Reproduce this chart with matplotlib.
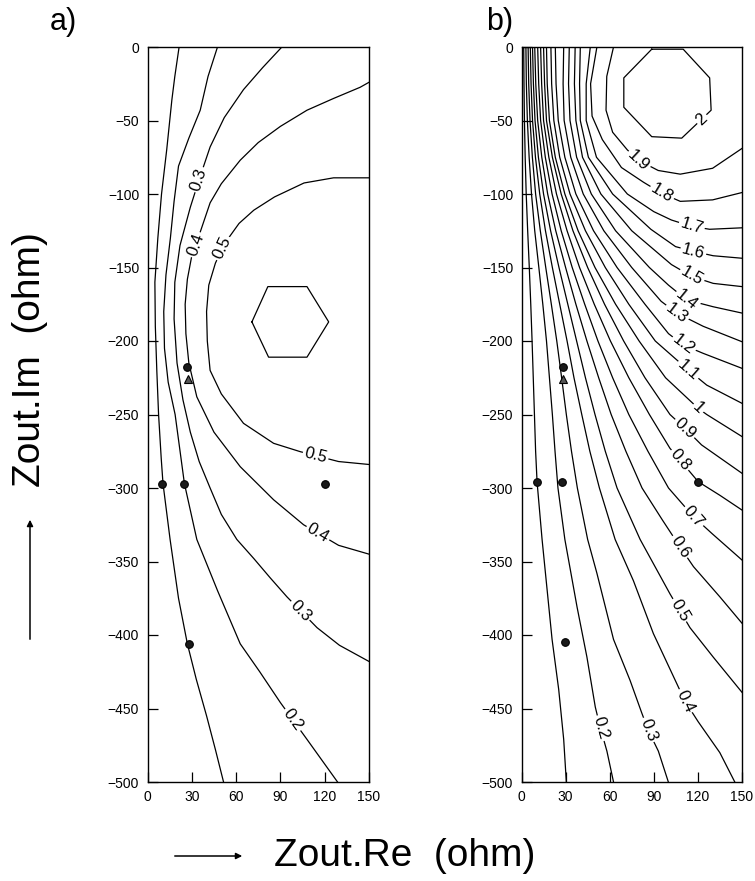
import numpy as np
import matplotlib
matplotlib.use("Agg")
import matplotlib.pyplot as plt
from matplotlib.patches import FancyArrowPatch

plt.rcParams['font.family'] = ['Liberation Sans', 'DejaVu Sans']

# ---------------- data: contour lines ----------------
# Panel a) levels 0.1 .. 0.6
a_levels = [0.1, 0.2, 0.3, 0.4, 0.5, 0.6]
a_c01 = [(21.4, 0), (18.5, -20), (16.5, -36), (13, -70), (9.5, -100), (7, -130), (5, -160), (5.3, -190),
         (6.3, -220), (7.5, -250), (9.3, -280), (10.5, -297), (15.3, -335), (21, -375), (27, -406),
         (33, -430), (40, -455), (46, -478), (51.5, -500)]
a_c02 = [(47.4, 0), (41, -20), (35.7, -43), (28, -62), (21, -81), (18, -105), (15.5, -130), (12.5, -155),
         (11, -180), (11.5, -205), (14, -228), (18.7, -250), (25, -297), (33.4, -335), (47.5, -370),
         (62.8, -406), (76, -425), (90, -446), (108, -471), (128.7, -500)]
a_c03 = [(91, 0), (78, -14), (65, -29), (52, -48), (42.4, -68), (35, -90), (29, -109), (22, -135),
         (18.5, -160), (18, -185), (20, -215), (24, -240), (29, -262), (35, -282), (42.4, -300),
         (50, -318), (60.5, -335), (72, -348), (83, -361), (94.4, -374), (114.8, -395), (130, -407),
         (150, -418)]
a_c04 = [(150, -24), (144, -27.4), (126, -35), (108, -43), (90, -54), (75, -65), (62.8, -77), (50, -93),
         (42.4, -106), (36, -125), (30, -142), (27, -158), (25.5, -175), (26, -195), (28, -215),
         (33.4, -238), (45, -262), (62.8, -285.5), (85.4, -308), (105.7, -325), (129.4, -339), (150, -345)]
a_c05 = [(150, -89), (126, -89), (106, -92.5), (86, -102), (72, -111), (62, -120), (52, -134), (46, -147),
         (41.5, -162), (40, -180), (40.5, -200), (42.4, -220), (50, -236), (65, -256), (85.4, -269.6),
         (103.5, -275.3), (129.4, -282), (150, -284)]
a_c06 = [(70.7, -187), (81.5, -163), (108, -163), (122.7, -187), (108, -211), (82, -211), (70.7, -187)]

# Panel b) levels 0.1 .. 2.0
b_levels = [0.1, 0.2, 0.3, 0.4, 0.5, 0.6, 0.7, 0.8, 0.9, 1.0, 1.1, 1.2, 1.3, 1.4, 1.5, 1.6, 1.7, 1.8, 1.9, 2.0]
b_c01 = [(1.5, 0), (1.7, -25), (2, -50), (2.5, -75), (3.2, -100), (4.2, -125), (5.3, -150), (6.3, -175),
         (7.2, -200), (8, -225), (8.8, -250), (9.6, -275), (10.6, -296), (14, -335), (17.4, -369),
         (20.8, -403), (25.3, -437), (28.7, -471), (30.5, -500)]
b_c02 = [(3, 0), (3.3, -25), (4, -50), (5.2, -75), (6.8, -100), (9, -125), (11.8, -150), (14.5, -175),
         (17, -200), (19, -225), (21, -250), (22.8, -275), (24.8, -300), (29.5, -335), (37.8, -381),
         (44.5, -415), (50.2, -449), (53.6, -463), (58.1, -479), (62.6, -500)]
b_c03 = [(4.5, 0), (4.9, -25), (5.8, -50), (7.4, -75), (9.6, -100), (12.8, -125), (16.5, -150),
         (20.3, -175), (24, -200), (27.3, -225), (30.5, -250), (34, -275), (38, -300), (45, -335),
         (51.3, -358), (62.6, -403), (73.9, -431), (81.8, -453), (86.3, -465), (93.1, -479), (99.9, -500)]
b_c04 = [(6, 0), (6.5, -25), (7.5, -50), (9.5, -75), (12.4, -100), (16.3, -125), (21, -150), (26, -175),
         (31, -200), (35.7, -225), (41, -250), (46.5, -275), (53, -300), (63.7, -335), (76.1, -363),
         (89.7, -399), (105.6, -433), (111.2, -445), (120.2, -459), (134.9, -480), (145.1, -500)]
b_c05 = [(7.5, 0), (8.1, -25), (9.2, -50), (11.5, -75), (15, -100), (19.8, -125), (25.5, -150),
         (31.5, -175), (37.5, -200), (43.5, -225), (50, -250), (57, -275), (65, -300), (80.7, -335),
         (101, -372), (114.6, -395), (130.4, -415), (150, -439)]
b_c06 = [(9, 0), (9.7, -25), (11, -50), (13.8, -75), (17.8, -100), (23.3, -125), (30, -150), (37, -175),
         (44.5, -200), (52.5, -225), (61, -250), (71, -275), (82, -300), (96, -322), (107.8, -340),
         (117, -353.5), (134.9, -374), (150, -392)]
b_c07 = [(11, 0), (11.7, -25), (13, -50), (16.2, -75), (20.8, -100), (27, -125), (34.5, -150), (43, -175),
         (52, -200), (62, -225), (73, -250), (86, -275), (100, -300), (117, -319.5), (129.6, -331),
         (150, -349)]
b_c08 = [(13, 0), (13.7, -25), (15, -50), (18.6, -75), (23.8, -100), (31, -125), (39.5, -150),
         (49.5, -175), (60.5, -200), (73, -225), (87, -250), (101, -273), (107.8, -281), (120.2, -295.7),
         (135, -305), (150, -315)]
b_c09 = [(15, 0), (15.7, -25), (17, -50), (21, -75), (27, -100), (35, -125), (45, -150), (56.5, -175),
         (69.5, -200), (84, -225), (101, -250), (111.2, -259.4), (122.5, -270.7), (150, -290)]
b_c10 = [(17, 0), (17.5, -25), (19, -50), (23, -75), (29.5, -100), (38.5, -125), (50, -150), (64, -175),
         (80, -200), (98, -225), (120.2, -245.8), (126, -250), (150, -265)]
b_c11 = [(20, 0), (20.5, -25), (22, -50), (26, -75), (33, -100), (43.5, -125), (57, -150), (73, -175),
         (91, -200), (113.4, -219.7), (126, -230), (150, -242.4)]
b_c12 = [(23, 0), (23.5, -25), (25, -50), (29.5, -75), (37, -100), (49, -125), (65, -150), (84, -175),
         (100, -195), (110, -202.7), (123.6, -208.4), (150, -218.6)]
b_c13 = [(28.7, 0), (28.3, -25), (29, -50), (33.5, -75), (42, -100), (56, -125), (75, -150), (95, -173),
         (105.6, -181), (123.6, -190), (150, -200.5)]
b_c14 = [(32.5, 0), (32, -25), (33, -50), (37.5, -75), (47.5, -100), (64, -125), (87, -150), (100, -162),
         (112.3, -172), (130.4, -176.7), (150, -181)]
b_c15 = [(36.5, 0), (36, -25), (37, -50), (41.5, -75), (54, -100), (75, -125), (102, -148),
         (115.7, -156), (130.4, -160.8), (150, -163)]
b_c16 = [(40, 0), (39.5, -25), (40, -50), (45.5, -75), (62, -100), (88, -124), (104.8, -135.8),
         (116.9, -139), (130.4, -142), (150, -143.7)]
b_c17 = [(46.8, 0), (44, -25), (44, -50), (51, -75), (72, -100), (90, -112), (102, -117.7),
         (115.7, -122), (128, -124), (150, -123)]
b_c18 = [(51.3, 0), (47, -25), (48, -47), (55, -63), (68, -82), (83, -92), (95.4, -99.5), (108, -105),
         (130, -104), (150, -99)]
b_c19 = [(62.6, 0), (58, -20), (57.5, -43), (62, -58), (72, -70), (79.5, -77), (93, -84), (108, -86.5),
         (130, -82.5), (150, -69)]
b_c20 = [(88.6, -1.5), (110, -1.5), (128, -21), (129, -43), (109, -62), (88.6, -61), (69.6, -41),
         (69.6, -21), (88.6, -1.5)]

# measurement points (filled dots) and triangle marker
pts_a_x = [10, 25, 120, 27, 28]
pts_a_y = [-297, -297, -297, -218, -406]
tri_a_x = [27.5]
tri_a_y = [-226]
pts_b_x = [10.6, 27.6, 120.2, 28, 29.8]
pts_b_y = [-296, -296, -296, -218, -405]
tri_b_x = [28]
tri_b_y = [-226]

x_ticks = [0, 30, 60, 90, 120, 150]
y_ticks = [0, -50, -100, -150, -200, -250, -300, -350, -400, -450, -500]

# ---------------- figure ----------------
W, H = 755, 881
fig = plt.figure(figsize=(W / 100, H / 100), dpi=100)


def px_axes(l, r, t, b):
    return [l / W, 1 - b / H, (r - l) / W, (b - t) / H]


ax_a = fig.add_axes(px_axes(147.5, 369, 47, 782))
ax_b = fig.add_axes(px_axes(521.5, 742, 47, 782))


def style_axes(ax):
    ax.set_xlim(0, 150)
    ax.set_ylim(-500, 0)
    ax.set_xticks(x_ticks)
    ax.set_yticks(y_ticks)
    ax.set_xticklabels([str(v) for v in x_ticks])
    ax.set_yticklabels([("\u2212" + str(-v)) if v < 0 else str(v) for v in y_ticks])
    ax.tick_params(direction='in', length=7, width=0.9, labelsize=10, top=False, right=False)
    ax.tick_params(axis='y', pad=6)
    ax.tick_params(axis='x', pad=6)
    for s in ax.spines.values():
        s.set_linewidth(1.0)


def draw_lines(ax, lines):
    for ln in lines:
        arr = np.asarray(ln, float)
        ax.plot(arr[:, 0], arr[:, 1], color='black', lw=0.9, solid_joinstyle='round', zorder=2,
                clip_on=True)


def place_label(ax, line, anchor, text, size=12):
    pts = np.asarray(line, float)
    disp = ax.transData.transform(pts)
    a = ax.transData.transform(anchor)
    best = None
    for i in range(len(disp) - 1):
        p, q = disp[i], disp[i + 1]
        d = q - p
        t = np.clip(np.dot(a - p, d) / np.dot(d, d), 0, 1)
        proj = p + t * d
        dist = np.hypot(*(a - proj))
        if best is None or dist < best[0]:
            best = (dist, proj, d)
    _, proj, d = best
    ang = np.degrees(np.arctan2(d[1], d[0]))
    if ang > 90:
        ang -= 180
    if ang < -90:
        ang += 180
    xy = ax.transData.inverted().transform(proj)
    ax.text(xy[0], xy[1], text, rotation=ang, rotation_mode='anchor', ha='center', va='center',
            fontsize=size, zorder=5,
            bbox=dict(boxstyle='square,pad=0.1', fc='white', ec='none'))


style_axes(ax_a)
style_axes(ax_b)

a_lines = [a_c01, a_c02, a_c03, a_c04, a_c05, a_c06]
b_lines = [b_c01, b_c02, b_c03, b_c04, b_c05, b_c06, b_c07, b_c08, b_c09, b_c10,
           b_c11, b_c12, b_c13, b_c14, b_c15, b_c16, b_c17, b_c18, b_c19, b_c20]
draw_lines(ax_a, a_lines)
draw_lines(ax_b, b_lines)


def fmt(v):
    return "%g" % v


# labels for panel a (index into a_levels, anchor)
a_lab = [(2, (34, -90)), (3, (34, -135)), (4, (51, -137)), (4, (113.6, -279)), (3, (114.7, -332)),
         (2, (103, -384)), (1, (98, -458))]
for i, anc in a_lab:
    place_label(ax_a, a_lines[i], anc, fmt(a_levels[i]))

b_lab = [(19, (123.6, -50)), (18, (79.5, -77)), (17, (95.4, -99.5)), (16, (115.7, -122)),
         (15, (116.9, -139)), (14, (115.7, -156)), (13, (112.3, -172)), (12, (105.6, -181)),
         (11, (110, -202.7)), (10, (113.4, -219.7)), (9, (120.2, -245.8)), (8, (111.2, -259.4)),
         (7, (107.8, -281)), (6, (117, -319.5)), (5, (107.8, -340)), (4, (107.8, -383)),
         (3, (111.2, -445)), (2, (86.3, -464.6)), (1, (53.6, -463.5))]
for i, anc in b_lab:
    place_label(ax_b, b_lines[i], anc, fmt(b_levels[i]))

for ax, px, py, tx, ty in [(ax_a, pts_a_x, pts_a_y, tri_a_x, tri_a_y),
                           (ax_b, pts_b_x, pts_b_y, tri_b_x, tri_b_y)]:
    ax.plot(px, py, 'o', ms=5.5, color='#1a1a1a', mec='black', mew=0.8, zorder=6, linestyle='none')
    ax.plot(tx, ty, '^', ms=5.5, color='#555555', mec='black', mew=0.8, zorder=6, linestyle='none')

# panel letters
fig.text(63 / W, 1 - 22 / H, 'a)', fontsize=22, ha='center', va='center')
fig.text(500 / W, 1 - 22 / H, 'b)', fontsize=22, ha='center', va='center')

# axis titles with arrows
fig.text(30 / W, 1 - 360 / H, 'Zout.Im  (ohm)', rotation=90, fontsize=28, ha='center', va='center')
fig.text(405 / W, 1 - 856 / H, 'Zout.Re  (ohm)', fontsize=28, ha='center', va='center')
fig.add_artist(FancyArrowPatch((30 / W, 1 - 642 / H), (30 / W, 1 - 517 / H), transform=fig.transFigure,
                               arrowstyle='-|>', mutation_scale=9, lw=1.1, color='black'))
fig.add_artist(FancyArrowPatch((172 / W, 1 - 856 / H), (245 / W, 1 - 856 / H), transform=fig.transFigure,
                               arrowstyle='-|>', mutation_scale=9, lw=1.1, color='black'))

fig.savefig('out.png', dpi=100)
